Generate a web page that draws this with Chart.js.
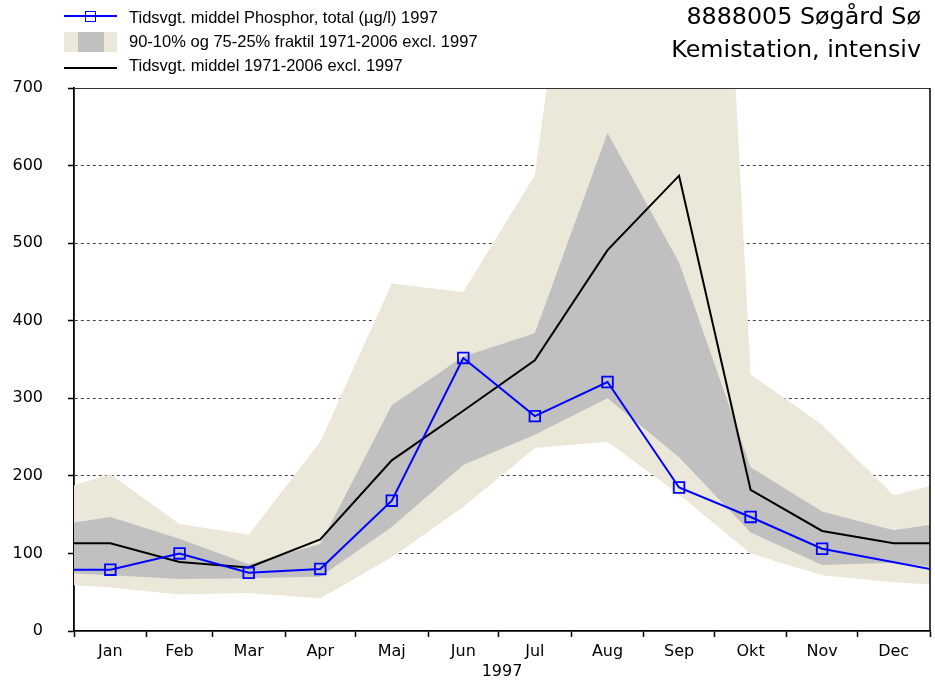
<!DOCTYPE html>
<html>
<head>
<meta charset="utf-8">
<script src="https://cdn.jsdelivr.net/npm/chart.js@4.4.1/dist/chart.umd.min.js"></script>
<style>
  html, body { margin: 0; padding: 0; background: #fff; }
  #wrap { position: relative; width: 935px; height: 681px; overflow: hidden; }
  #c { position: absolute; left: 0; top: 0; }
  .leg { position: absolute; left: 129px; font-family: "Liberation Sans", Arial, sans-serif; font-size: 16.5px; line-height: 16.5px; color: #000; white-space: nowrap; }
  .ttl { position: absolute; right: 14px; font-family: "DejaVu Sans", Verdana, sans-serif; font-size: 23.8px; line-height: 23.8px; color: #000; white-space: nowrap; text-align: right; }
  .sym { position: absolute; }
</style>
</head>
<body>
<div id="wrap">
  <canvas id="c" width="935" height="681"></canvas>

  <div class="sym" style="left:64px;top:15px;width:53px;height:2px;background:#0000ff;"></div>
  <div class="sym" style="left:85px;top:11px;width:9px;height:9px;border:1.6px solid #0000ff;"></div>
  <div class="leg" style="top:9px;">Tidsvgt. middel Phosphor, total (µg/l) 1997</div>

  <div class="sym" style="left:64px;top:32px;width:14px;height:20px;background:#ebe8da;"></div>
  <div class="sym" style="left:78px;top:32px;width:26px;height:20px;background:#c0c0c0;"></div>
  <div class="sym" style="left:104px;top:32px;width:13px;height:20px;background:#ebe8da;"></div>
  <div class="leg" style="top:33px;">90-10% og 75-25% fraktil 1971-2006 excl. 1997</div>

  <div class="sym" style="left:64px;top:67px;width:53px;height:2px;background:#000;"></div>
  <div class="leg" style="top:57px;">Tidsvgt. middel 1971-2006 excl. 1997</div>

  <div class="ttl" style="top:5px;">8888005 Søgård Sø</div>
  <div class="ttl" style="top:38px;">Kemistation, intensiv</div>
</div>
<script>
// ---- data (µg/l) ----
const months = ['Jan','Feb','Mar','Apr','Maj','Jun','Jul','Aug','Sep','Okt','Nov','Dec'];
const daysInMonth = [31,28,31,30,31,30,31,31,30,31,30,31];
const yearLabel = '1997';
// each series: [1 Jan value, Jan..Dec monthly values, 31 Dec value]
const frac90   = [188, 202, 138, 124, 244, 448, 437, 588, 1280, 2100, 331, 266, 175, 187];
const frac75   = [140, 147, 119,  86, 112, 291, 354, 384,  642,  475, 211, 154, 130, 137];
const mean7106 = [113, 113,  89,  82, 118, 220, 284, 349,  491,  587, 182, 129, 113, 113];
const frac25   = [ 74,  72,  67,  68,  70, 134, 214, 253,  300,  224, 127,  85,  88,  83];
const frac10   = [ 59,  56,  47,  49,  42,  95, 160, 236,  244,  176, 100,  72,  63,  60];
const phos1997 = [ 79,  79, 100,  75,  80, 168, 352, 277,  321,  185, 147, 106, null, 80];
const yTicks = [0, 100, 200, 300, 400, 500, 600, 700];

// ---- calendar positions (day of year) ----
const monthStarts = [0];
daysInMonth.forEach(d => monthStarts.push(monthStarts[monthStarts.length - 1] + d));
const monthMids = daysInMonth.map((d, i) => monthStarts[i] + d / 2);
const yearEnd = monthStarts[12];
const xDays = [0, ...monthMids, yearEnd];
const toPts = arr => arr.map((v, i) => ({ x: xDays[i], y: v }));

const LIGHT = '#ebe8da';
const GRAY = '#c0c0c0';
const FONT = '"DejaVu Sans", Verdana, sans-serif';

const frameLines = {
  id: 'frameLines',
  afterDatasetsDraw(chart) {
    const { ctx, chartArea: a } = chart;
    ctx.save();
    ctx.strokeStyle = '#333';
    ctx.lineWidth = 1;
    ctx.beginPath();
    ctx.moveTo(a.left, a.top + 0.5);
    ctx.lineTo(a.right, a.top + 0.5);
    ctx.stroke();
    ctx.strokeStyle = '#000';
    ctx.lineWidth = 1.5;
    ctx.beginPath();
    ctx.moveTo(a.right, a.top);
    ctx.lineTo(a.right, a.bottom);
    ctx.stroke();
    ctx.restore();
  }
};

new Chart(document.getElementById('c'), {
  type: 'line',
  data: {
    datasets: [
      {
        label: 'Tidsvgt. middel Phosphor, total (µg/l) 1997',
        data: toPts(phos1997),
        borderColor: '#0000ff',
        borderWidth: 2,
        pointStyle: 'rect',
        pointRadius: ctx => (ctx.dataIndex === 0 || ctx.dataIndex === phos1997.length - 1 || phos1997[ctx.dataIndex] === null) ? 0 : 7.5,
        pointBorderColor: '#0000ff',
        pointBackgroundColor: 'rgba(0,0,0,0)',
        pointBorderWidth: 1.8,
        spanGaps: true,
        fill: false,
        tension: 0
      },
      {
        label: 'Tidsvgt. middel 1971-2006 excl. 1997',
        data: toPts(mean7106),
        borderColor: '#000',
        borderWidth: 2,
        pointRadius: 0,
        fill: false,
        tension: 0
      },
      {
        label: '75%',
        data: toPts(frac75),
        borderWidth: 0,
        pointRadius: 0,
        backgroundColor: GRAY,
        fill: '+1',
        tension: 0
      },
      {
        label: '25%',
        data: toPts(frac25),
        borderWidth: 0,
        pointRadius: 0,
        fill: false,
        tension: 0
      },
      {
        label: '90%',
        data: toPts(frac90),
        borderWidth: 0,
        pointRadius: 0,
        backgroundColor: LIGHT,
        fill: '+1',
        tension: 0
      },
      {
        label: '10%',
        data: toPts(frac10),
        borderWidth: 0,
        pointRadius: 0,
        fill: false,
        tension: 0
      }
    ]
  },
  options: {
    responsive: false,
    animation: false,
    devicePixelRatio: 1,
    layout: { padding: { left: 0, top: 88, right: 4, bottom: 0 } },
    plugins: {
      legend: { display: false },
      tooltip: { enabled: false },
      title: { display: false }
    },
    scales: {
      x: {
        type: 'linear',
        min: 0,
        max: yearEnd,
        afterBuildTicks: s => {
          const vals = [...monthStarts, ...monthMids].sort((a, b) => a - b);
          s.ticks = vals.map(v => ({ value: v }));
        },
        afterFit: s => { s.height = 50; },
        ticks: {
          autoSkip: false,
          maxRotation: 0,
          minRotation: 0,
          padding: 5,
          color: '#000',
          font: { family: FONT, size: 16 },
          callback: v => {
            const i = monthMids.indexOf(v);
            return i >= 0 ? months[i] : '';
          }
        },
        grid: {
          drawOnChartArea: false,
          drawTicks: true,
          tickLength: 6,
          tickWidth: 1.5,
          tickColor: ctx => (ctx.tick && monthStarts.indexOf(ctx.tick.value) >= 0) ? '#000' : 'rgba(0,0,0,0)'
        },
        border: { display: true, color: '#000', width: 1.8 },
        title: {
          display: true,
          text: yearLabel,
          color: '#000',
          font: { family: FONT, size: 16 },
          padding: { top: 0, bottom: 0 }
        }
      },
      y: {
        min: 0,
        max: 700,
        afterBuildTicks: s => { s.ticks = yTicks.map(v => ({ value: v })); },
        afterFit: s => { s.width = 74; },
        ticks: {
          padding: 25,
          color: '#000',
          font: { family: FONT, size: 16 }
        },
        grid: {
          drawOnChartArea: true,
          drawTicks: true,
          tickLength: 6,
          tickWidth: 1.5,
          tickColor: '#000',
          lineWidth: 1,
          color: ctx => (ctx.tick && (ctx.tick.value === 0 || ctx.tick.value === 700)) ? 'rgba(0,0,0,0)' : '#444'
        },
        border: { display: true, color: '#000', width: 1.8, dash: [3, 3] }
      }
    }
  },
  plugins: [frameLines]
});
</script>
</body>
</html>
